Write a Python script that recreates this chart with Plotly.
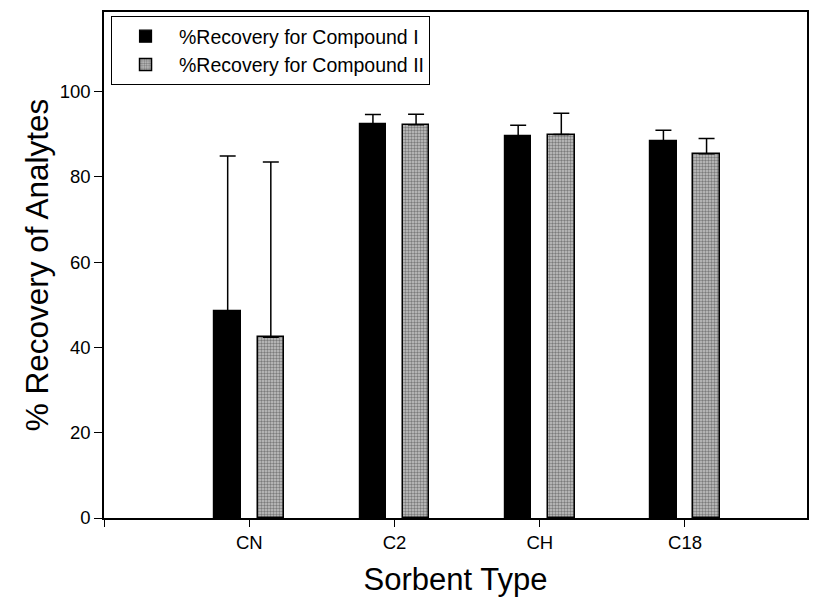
import plotly.graph_objects as go

categories = ["CN", "C2", "CH", "C18"]
cat_pos = [1, 2, 3, 4]
compound1 = [48.6, 92.4, 89.6, 88.3]
compound1_err = [36.3, 2.2, 2.5, 2.6]
compound2 = [42.4, 92.2, 89.9, 85.4]
compound2_err = [41.1, 2.5, 5.0, 3.6]
y_ticks = [0, 20, 40, 60, 80, 100]

FONT = "Liberation Sans, Arial, sans-serif"
BAR_W = 0.183

fig = go.Figure()
fig.add_trace(go.Bar(
    x=cat_pos, y=compound1, name="%Recovery for Compound I",
    width=BAR_W, offset=-0.24,
    marker=dict(color="black", line=dict(color="black", width=1.2)),
    error_y=dict(type="data", array=compound1_err, arrayminus=[0]*4, symmetric=False,
                 color="black", thickness=1.5, width=8),
))
fig.add_trace(go.Bar(
    x=cat_pos, y=compound2, name="%Recovery for Compound II",
    width=BAR_W, offset=0.057,
    marker=dict(color="#b4b4b4", line=dict(color="black", width=1.5),
                pattern=dict(shape=".", fgcolor="#303030", bgcolor="#c6c6c6", size=3, solidity=0.5)),
    error_y=dict(type="data", array=compound2_err, arrayminus=[0]*4, symmetric=False,
                 color="black", thickness=1.5, width=8),
))

fig.update_layout(
    width=819, height=601,
    margin=dict(l=104, r=12, t=10, b=82),
    paper_bgcolor="white", plot_bgcolor="white",
    font=dict(family=FONT, color="black", size=18),
    showlegend=True,
    legend=dict(x=0.01, y=0.992, xanchor="left", yanchor="top",
                bordercolor="black", borderwidth=1, bgcolor="white",
                font=dict(size=19.5), itemwidth=57, tracegroupgap=0),
    bargap=0,
)
fig.update_xaxes(
    range=[0, 4.84], tickvals=[0] + cat_pos, ticktext=[""] + categories,
    showline=True, linecolor="black", linewidth=1.5, mirror=True,
    ticks="outside", ticklen=7, tickcolor="black", tickwidth=1.2,
    showgrid=False, zeroline=False,
    tickfont=dict(size=18.5),
    title=dict(text="Sorbent Type", font=dict(size=31), standoff=16),
)
fig.update_yaxes(
    range=[0, 118.65], tickvals=y_ticks,
    showline=True, linecolor="black", linewidth=1.5, mirror=True,
    ticks="outside", ticklen=8, tickcolor="black", tickwidth=1.2,
    showgrid=False, zeroline=False,
    tickfont=dict(size=18.5),
    title=dict(text="% Recovery of Analytes", font=dict(size=31.5), standoff=2),
)

fig.write_html("out.html")
